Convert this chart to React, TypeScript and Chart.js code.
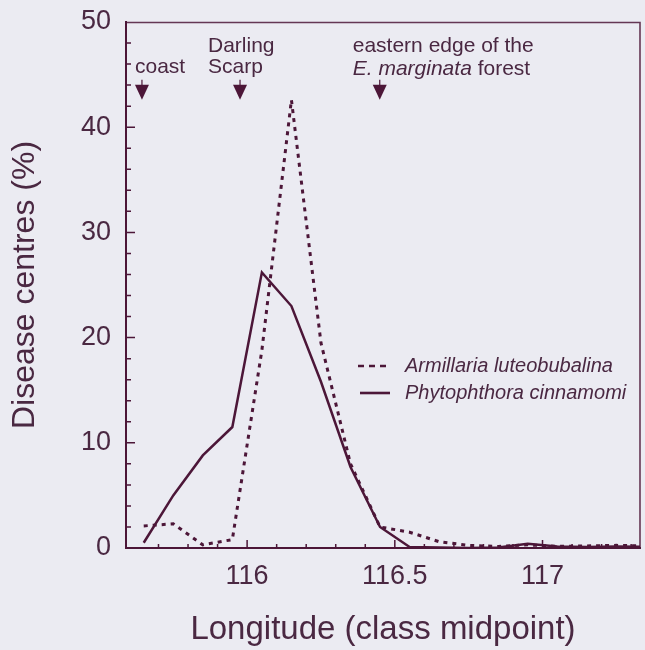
import React, { useEffect, useRef } from 'react';
import { Chart, registerables } from 'chart.js';

Chart.register(...registerables);

// ---- data ----
const longitudes = [115.65, 115.75, 115.85, 115.95, 116.05, 116.15, 116.25, 116.35, 116.45, 116.55, 116.65, 116.75, 116.85, 116.95, 117.05, 117.15, 117.25, 117.35];
const armillaria = [2.1, 2.3, 0.3, 0.8, 18.8, 42.6, 19.5, 8.0, 2.0, 1.5, 0.6, 0.25, 0.15, 0.3, 0.15, 0.2, 0.25, 0.2];
const phytophthora = [0.5, 5.0, 8.8, 11.5, 26.2, 23.0, 15.8, 7.7, 2.0, 0.1, 0.05, 0.0, 0.05, 0.4, 0.15, 0.1, 0.15, 0.1];
const seriesNames = ['Armillaria luteobubalina', 'Phytophthora cinnamomi'];
const xTickValues = [116, 116.5, 117];
const yTickValues = [0, 10, 20, 30, 40, 50];
const xTitle = 'Longitude (class midpoint)';
const yTitle = 'Disease centres (%)';
const landmarkLon = [115.644, 115.976, 116.449];

const BG = '#ebebf2';
const INK = '#4c1638';
const TEXT = '#4a2842';
const FONT = '"Liberation Sans", Arial, Helvetica, sans-serif';

const decorPlugin = {
  id: 'decor',
  afterDatasetsDraw(chart: any) {
    const { ctx, chartArea, scales } = chart;
    const xs = scales.x;
    const ys = scales.y;
    ctx.save();
    // frame top & right
    ctx.strokeStyle = INK;
    ctx.globalAlpha = 0.85;
    ctx.lineWidth = 1.6;
    ctx.beginPath();
    ctx.moveTo(chartArea.left, chartArea.top + 0.5);
    ctx.lineTo(chartArea.right, chartArea.top + 0.5);
    ctx.lineTo(chartArea.right, chartArea.bottom);
    ctx.stroke();
    ctx.globalAlpha = 1;

    // inward ticks
    ctx.lineWidth = 1.5;
    ctx.strokeStyle = INK;
    ctx.beginPath();
    for (let i = 1; i <= 30; i++) {
      const lon = Math.round((115.6 + i * 0.1) * 10) / 10;
      if (lon > xs.max) break;
      const px = xs.getPixelForValue(lon);
      const major = xTickValues.some((t) => Math.abs(t - lon) < 1e-6);
      ctx.moveTo(px, chartArea.bottom);
      ctx.lineTo(px, chartArea.bottom - (major ? 8 : 4));
    }
    for (let yv = 2; yv < 50; yv += 2) {
      const py = ys.getPixelForValue(yv);
      const major = yv % 10 === 0;
      ctx.moveTo(chartArea.left, py);
      ctx.lineTo(chartArea.left + (major ? 9 : 5), py);
    }
    ctx.stroke();

    // landmarks: arrows and labels
    const tipY = ys.getPixelForValue(42.6);
    const arrowX = landmarkLon.map((l) => xs.getPixelForValue(l));
    ctx.fillStyle = INK;
    arrowX.forEach((ax) => {
      ctx.beginPath();
      ctx.lineWidth = 1.2;
      ctx.moveTo(ax, tipY - 20);
      ctx.lineTo(ax, tipY - 12);
      ctx.stroke();
      ctx.beginPath();
      ctx.moveTo(ax - 7, tipY - 15);
      ctx.lineTo(ax + 7, tipY - 15);
      ctx.lineTo(ax, tipY);
      ctx.closePath();
      ctx.fill();
    });
    ctx.fillStyle = TEXT;
    ctx.textBaseline = 'alphabetic';
    ctx.textAlign = 'left';
    ctx.font = `21px ${FONT}`;
    ctx.fillText('coast', arrowX[0] - 7, tipY - 27);
    ctx.fillText('Darling', arrowX[1] - 32, tipY - 48);
    ctx.fillText('Scarp', arrowX[1] - 32, tipY - 27);
    ctx.fillText('eastern edge of the', arrowX[2] - 27, tipY - 48);
    ctx.font = `italic 21px ${FONT}`;
    const e = 'E. marginata';
    ctx.fillText(e, arrowX[2] - 27, tipY - 25);
    const w = ctx.measureText(e).width;
    ctx.font = `21px ${FONT}`;
    ctx.fillText(' forest', arrowX[2] - 27 + w, tipY - 25);

    // legend
    const lx = 358;
    const rows = [366, 393];
    chart.data.datasets.forEach((ds: any, i: number) => {
      ctx.beginPath();
      ctx.strokeStyle = ds.borderColor;
      ctx.lineWidth = 2.6;
      ctx.setLineDash(i === 0 ? [6, 5] : []);
      ctx.moveTo(lx + (i === 0 ? 0 : 2), rows[i]);
      ctx.lineTo(lx + 32, rows[i]);
      ctx.stroke();
      ctx.setLineDash([]);
      ctx.font = `italic 20px ${FONT}`;
      ctx.fillStyle = TEXT;
      ctx.textBaseline = 'middle';
      ctx.fillText(ds.label, 405, rows[i]);
    });
    ctx.restore();
  },
};

export default function App() {
  const ref = useRef<HTMLCanvasElement | null>(null);
  useEffect(() => {
    document.body.style.margin = '0';
    document.body.style.background = BG;
    const canvas = ref.current;
    if (!canvas) return;
    const chart = new Chart(canvas, {
      type: 'line',
      data: {
        datasets: [
          {
            label: seriesNames[0],
            data: longitudes.map((x, i) => ({ x, y: armillaria[i] })),
            borderColor: INK,
            borderWidth: 3,
            borderDash: [4, 5],
            pointRadius: 0,
            tension: 0,
            fill: false,
          },
          {
            label: seriesNames[1],
            data: longitudes.map((x, i) => ({ x, y: phytophthora[i] })),
            borderColor: INK,
            borderWidth: 2.5,
            pointRadius: 0,
            tension: 0,
            fill: false,
          },
        ],
      },
      options: {
        responsive: false,
        devicePixelRatio: 1,
        animation: false,
        layout: { padding: { top: 22, right: 5, left: 0, bottom: 0 } },
        plugins: { legend: { display: false }, tooltip: { enabled: false } },
        scales: {
          x: {
            type: 'linear',
            min: 115.59,
            max: 117.33,
            afterBuildTicks: (scale: any) => {
              scale.ticks = xTickValues.map((v) => ({ value: v }));
            },
            afterFit: (scale: any) => {
              scale.height = 102;
              scale.paddingLeft = 0;
              scale.paddingRight = 0;
            },
            grid: { display: false, drawTicks: false },
            border: { display: true, color: INK, width: 2 },
            ticks: {
              padding: 12,
              color: TEXT,
              font: { family: FONT, size: 27 },
              maxRotation: 0,
              autoSkip: false,
              callback: (v: any) => String(v),
            },
            title: {
              display: true,
              text: xTitle,
              color: TEXT,
              font: { family: FONT, size: 33 },
              padding: { top: 0, bottom: 0 },
            },
          },
          y: {
            type: 'linear',
            min: 0,
            max: 50,
            afterBuildTicks: (scale: any) => {
              scale.ticks = yTickValues.map((v) => ({ value: v }));
            },
            afterFit: (scale: any) => {
              scale.width = 126;
              scale.paddingTop = 0;
              scale.paddingBottom = 0;
            },
            grid: { display: false, drawTicks: false },
            border: { display: true, color: INK, width: 2 },
            ticks: {
              padding: 15,
              color: TEXT,
              font: { family: FONT, size: 27 },
              autoSkip: false,
              callback: (v: any) => String(v),
            },
            title: {
              display: true,
              text: yTitle,
              color: TEXT,
              font: { family: FONT, size: 32 },
              padding: { top: 6, bottom: 0 },
            },
          },
        },
      },
      plugins: [decorPlugin],
    } as any);
    return () => chart.destroy();
  }, []);
  return (
    <div style={{ position: 'absolute', left: 0, top: 0, width: 645, height: 650, background: BG }}>
      <canvas ref={ref} width={645} height={650} style={{ width: 645, height: 650, display: 'block' }} />
    </div>
  );
}
